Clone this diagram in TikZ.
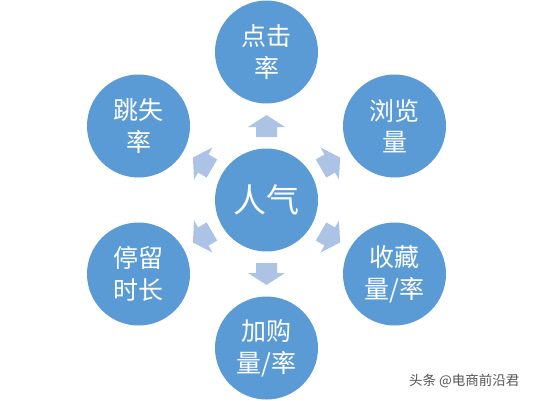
\documentclass[tikz,border=0pt]{standalone}
\usepackage{fontspec}
\newfontfamily\cjk{Noto Sans CJK SC}
\definecolor{circblue}{HTML}{5B9BD5}
\definecolor{arrblue}{HTML}{ADC3E6}
\definecolor{wmgray}{HTML}{555555}
\begin{document}
\begin{tikzpicture}[x=1pt,y=-1pt,
  bubble/.style={circle,fill=circblue,draw=none,minimum size=103pt,inner sep=0pt,
    text=white,align=center,font=\cjk\fontsize{25}{31.5}\selectfont},
  hub/.style={bubble,font=\cjk\fontsize{33}{38}\selectfont},
  blockarrow/.style={fill=arrblue,draw=none}]
\useasboundingbox (0,0) rectangle (534,400);
\node[hub] (c) at (266.5,200) {人气};
\node[bubble] (n1) at (266.5,52) {点击\\率};
\node[bubble] (n2) at (394.5,126) {浏览\\量};
\node[bubble] (n3) at (394.5,274) {收藏\\量/率};
\node[bubble] (n4) at (266.5,348) {加购\\量/率};
\node[bubble] (n5) at (138.5,274) {停留\\时长};
\node[bubble] (n6) at (138.5,126) {跳失\\率};
\foreach \a in {90,30,-30,-90,210,150}{
  \begin{scope}[shift={(c)},rotate=-\a]
    \fill[blockarrow] (63,-10.5) -- (73,-10.5) -- (73,-18.5) -- (85,0) -- (73,18.5) -- (73,10.5) -- (63,10.5) -- cycle;
  \end{scope}
}
\node[text=wmgray,font=\cjk\fontsize{13.5}{15}\selectfont,anchor=east] (wm) at (523,381) {头条 @电商前沿君};
\end{tikzpicture}
\end{document}
